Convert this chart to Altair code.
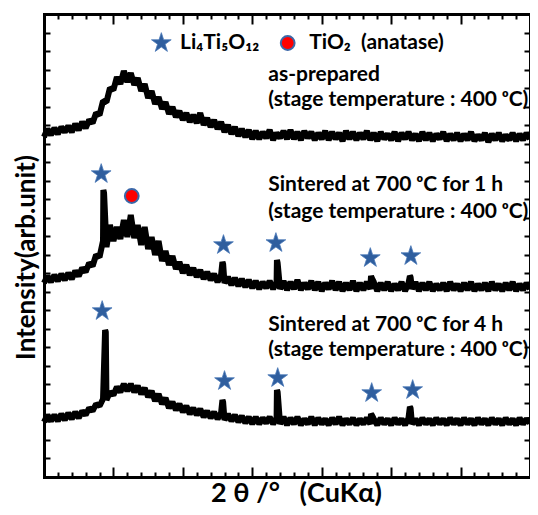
import altair as alt
import pandas as pd

# ---------------- data ----------------
TWO_THETA = [
    10.0, 10.5, 11.0, 11.5, 12.0, 12.5, 13.0, 13.5, 14.0, 14.5,
    15.0, 15.5, 16.0, 16.5, 17.0, 17.5, 18.0, 18.5, 19.0, 19.5,
    20.0, 20.5, 21.0, 21.5, 22.0, 22.5, 23.0, 23.5, 24.0, 24.5,
    25.0, 25.5, 26.0, 26.5, 27.0, 27.5, 28.0, 28.5, 29.0, 29.5,
    30.0, 30.5, 31.0, 31.5, 32.0, 32.5, 33.0, 33.5, 34.0, 34.5,
    35.0, 35.5, 36.0, 36.5, 37.0, 37.5, 38.0, 38.5, 39.0, 39.5,
    40.0, 40.5, 41.0, 41.5, 42.0, 42.5, 43.0, 43.5, 44.0, 44.5,
    45.0, 45.5, 46.0, 46.5, 47.0, 47.5, 48.0, 48.5, 49.0, 49.5,
    50.0, 50.5, 51.0, 51.5, 52.0, 52.5, 53.0, 53.5, 54.0, 54.5,
    55.0, 55.5, 56.0, 56.5, 57.0, 57.5, 58.0, 58.5, 59.0, 59.5,
    60.0, 60.5, 61.0, 61.5, 62.0, 62.5, 63.0, 63.5, 64.0, 64.5,
    65.0, 65.5, 66.0, 66.5, 67.0, 67.5, 68.0, 68.5, 69.0, 69.5,
    70.0, 70.5, 71.0, 71.5, 72.0, 72.5, 73.0, 73.5, 74.0, 74.5,
    75.0, 75.5, 76.0, 76.5, 77.0, 77.5, 78.0, 78.5, 79.0, 79.5,
    80.0,
]

AS_PREPARED = [
    340, 348, 342, 349, 343, 350, 345, 351, 345, 353,
    347, 355, 349, 357, 354, 364, 362, 376, 375, 389,
    387, 400, 393, 406, 395, 404, 392, 399, 386, 393,
    379, 386, 373, 380, 368, 375, 363, 370, 360, 366,
    357, 364, 355, 362, 354, 364, 352, 359, 350, 357,
    348, 355, 345, 352, 343, 350, 341, 348, 340, 347,
    338, 346, 338, 345, 339, 347, 337, 344, 339, 346,
    338, 347, 338, 345, 337, 346, 339, 345, 337, 344,
    338, 346, 337, 345, 338, 344, 336, 346, 338, 345,
    337, 344, 338, 346, 337, 344, 336, 345, 338, 343,
    337, 345, 336, 344, 338, 345, 337, 343, 336, 345,
    337, 344, 336, 343, 338, 345, 336, 343, 337, 344,
    336, 343, 337, 345, 336, 342, 337, 344, 335, 343,
    337, 344, 336, 342, 337, 344, 336, 343, 337, 344,
    338,
]

SINTER_1H = [
    194, 201, 195, 202, 196, 203, 197, 204, 198, 206,
    201, 209, 205, 214, 211, 222, 220, 236, 230, 252,
    236, 250, 238, 257, 240, 262, 239, 252, 232, 250,
    228, 240, 222, 236, 216, 226, 212, 221, 208, 215,
    204, 212, 202, 209, 200, 207, 198, 205, 197, 203,
    195, 202, 194, 200, 192, 199, 191, 198, 190, 197,
    189, 196, 188, 195, 189, 196, 188, 195, 188, 196,
    187, 195, 188, 197, 187, 194, 188, 196, 187, 195,
    186, 194, 188, 196, 187, 195, 186, 194, 187, 196,
    186, 194, 187, 195, 188, 195, 186, 194, 187, 195,
    186, 193, 187, 195, 186, 194, 188, 195, 186, 194,
    187, 195, 186, 193, 187, 194, 186, 195, 187, 193,
    186, 194, 187, 195, 186, 193, 187, 194, 186, 195,
    187, 193, 186, 194, 187, 195, 186, 193, 187, 194,
    188,
]

SINTER_4H = [
    55, 62, 56, 62, 56, 63, 57, 64, 58, 65,
    59, 66, 62, 69, 66, 73, 71, 78, 77, 85,
    82, 90, 85, 93, 86, 93, 85, 91, 83, 89,
    80, 86, 76, 83, 73, 79, 69, 75, 67, 73,
    65, 71, 63, 69, 62, 68, 60, 66, 59, 65,
    58, 64, 57, 63, 56, 62, 55, 61, 54, 60,
    53, 60, 53, 59, 54, 60, 53, 59, 53, 60,
    52, 59, 53, 60, 52, 58, 53, 60, 52, 59,
    53, 58, 52, 59, 53, 60, 52, 58, 53, 59,
    52, 58, 53, 59, 53, 58, 52, 59, 53, 58,
    52, 59, 53, 58, 52, 59, 53, 58, 52, 59,
    53, 58, 52, 59, 53, 58, 52, 59, 53, 58,
    52, 59, 53, 58, 52, 59, 53, 58, 52, 59,
    53, 58, 52, 59, 53, 58, 52, 59, 53, 58,
    54,
]

# sharp Li4Ti5O12 reflections (tops of the narrow peaks)
PEAK_X_1H = [18.55, 18.65, 35.7, 35.8, 43.55, 43.65, 57.1, 57.2, 62.7, 62.8]
PEAK_Y_1H = [287, 284, 215, 213, 217, 214, 201, 199, 201, 200]
PEAK_X_4H = [18.8, 18.9, 35.7, 35.8, 43.55, 43.65, 57.1, 57.2, 62.7, 62.8]
PEAK_Y_4H = [147, 145, 77, 75, 87, 85, 63, 62, 70, 69]

# phase markers
STAR_X = [18.24, 35.85, 43.4, 57.0, 62.84, 18.38, 36.0, 43.66, 57.2, 63.1, 26.9]
STAR_Y = [303, 232, 234, 219, 221, 166, 96, 99, 84, 87, 434]
CIRCLE_X = [22.64, 45.1]
CIRCLE_Y = [281, 434]

# legend texts
LEGEND_TEXT = ["Li\u2084Ti\u2085O\u2081\u2082", "TiO\u2082\u00a0\u00a0(anatase)"]
LEGEND_X = [29.6, 48.2]
LEGEND_Y = [434, 434]

# sample annotations
LABELS = [
    "as-prepared",
    "(stage temperature : 400 \u1d52C)",
    "Sintered at 700 \u1d52C for 1 h",
    "(stage temperature : 400 \u1d52C)",
    "Sintered at 700 \u1d52C for 4 h",
    "(stage temperature : 400 \u1d52C)",
]
LABEL_X = [42.3, 42.3, 42.3, 42.3, 42.3, 42.3]
LABEL_Y = [402, 377, 292, 265, 152, 127]

assert len(TWO_THETA) == 141
assert len(AS_PREPARED) == 141
assert len(SINTER_1H) == 141
assert len(SINTER_4H) == 141

# ---------------- tables ----------------
rows = []
for name, yv, px, py in [
    ("as-prepared", AS_PREPARED, [], []),
    ("1 h", SINTER_1H, PEAK_X_1H, PEAK_Y_1H),
    ("4 h", SINTER_4H, PEAK_X_4H, PEAK_Y_4H),
]:
    pts = list(zip(TWO_THETA, yv)) + list(zip(px, py))
    pts.sort(key=lambda p: p[0])
    for x, y in pts:
        rows.append({"trace": name, "x": x, "y": y})
lines_df = pd.DataFrame(rows)
stars_df = pd.DataFrame({"x": STAR_X, "y": STAR_Y})
circles_df = pd.DataFrame({"x": CIRCLE_X, "y": CIRCLE_Y})
legend_df = pd.DataFrame({"x": LEGEND_X, "y": LEGEND_Y, "text": LEGEND_TEXT})
labels_df = pd.DataFrame({"x": LABEL_X, "y": LABEL_Y, "text": LABELS})

# ---------------- layout ----------------
W, H = 486, 463
XDOM = [10, 80]
YDOM = [0, 463]
Y_TICKS = [i * 463 / 25 for i in range(1, 25)]
X_MAJOR = [10, 20, 30, 40, 50, 60, 70, 80]
X_MINOR = [v for v in range(12, 80, 2) if v % 10 != 0]
FONT = "Lato"
STAR_PATH = ("M0,-1L0.225,-0.309L0.951,-0.309L0.363,0.118L0.588,0.809L0,0.382"
             "L-0.588,0.809L-0.363,0.118L-0.951,-0.309L-0.225,-0.309Z")


def tick_axis(orient, values, inward, frame, **kw):
    # inward-pointing ticks (negative tick length given as an expression)
    return alt.Axis(orient=orient, values=values, tickSize={"expr": str(-inward)},
                    domain=frame, domainColor="black", domainWidth=3,
                    domainCap="square", labels=False, grid=False, ticks=True,
                    tickColor="black", tickWidth=2, **kw)


xs = alt.Scale(domain=XDOM, nice=False, zero=False)
ys = alt.Scale(domain=YDOM, nice=False, zero=False)

lines = alt.Chart(lines_df).mark_line(
    color="black", strokeWidth=6, strokeJoin="bevel"
).encode(
    x=alt.X("x:Q", scale=xs, axis=tick_axis(
        "bottom", X_MAJOR, 10, True,
        title="2 \u03b8 /\u00b0\u00a0\u00a0\u00a0(CuK\u03b1)",
        titleX=252, titleY=16, titleAlign="center", titleBaseline="middle",
        titleFont=FONT, titleFontSize=27, titleFontWeight="bold", titleColor="black")),
    y=alt.Y("y:Q", scale=ys, axis=tick_axis(
        "left", Y_TICKS, 6, True, title="Intensity(arb.unit)",
        titleX=-18, titleY=243, titleAngle=270, titleAlign="center",
        titleBaseline="middle", titleFont=FONT, titleFontSize=26,
        titleFontWeight="bold", titleColor="black")),
    detail="trace:N",
)

stars = alt.Chart(stars_df).mark_point(
    shape=STAR_PATH, size=430, filled=True, color="#2F5E9E",
    stroke="#4A78B8", strokeWidth=0.8, opacity=1
).encode(
    x=alt.X("x:Q", scale=xs, axis=tick_axis("bottom", X_MINOR, 5, False, title=None)),
    y=alt.Y("y:Q", scale=ys, axis=tick_axis("right", Y_TICKS, 6, True, title=None)),
)

circles = alt.Chart(circles_df).mark_point(
    shape="circle", size=190, filled=True, fill="#FF0000",
    stroke="#3B67A8", strokeWidth=2, opacity=1
).encode(
    x=alt.X("x:Q", scale=xs, axis=tick_axis("top", X_MAJOR, 10, True, title=None)),
    y=alt.Y("y:Q", scale=ys, axis=None),
)

legend = alt.Chart(legend_df).mark_text(
    align="left", baseline="middle", font=FONT, fontWeight="bold",
    fontSize=21, color="black"
).encode(
    x=alt.X("x:Q", scale=xs, axis=tick_axis("top", X_MINOR, 5, False, title=None)),
    y=alt.Y("y:Q", scale=ys, axis=None),
    text="text:N",
)

labels = alt.Chart(labels_df).mark_text(
    align="left", baseline="middle", font=FONT, fontWeight="bold",
    fontSize=21, color="black"
).encode(
    x=alt.X("x:Q", scale=xs, axis=None),
    y=alt.Y("y:Q", scale=ys, axis=None),
    text="text:N",
)

chart = alt.layer(lines, stars, circles, legend, labels).resolve_axis(
    x="independent", y="independent"
).properties(
    width=W, height=H,
    autosize=alt.AutoSizeParams(type="none"),
    padding={"left": 36, "top": 6, "right": 0, "bottom": 30},
).configure_view(
    stroke=None
)

chart.save("out.html", embed_options={"renderer": "svg", "actions": False})
